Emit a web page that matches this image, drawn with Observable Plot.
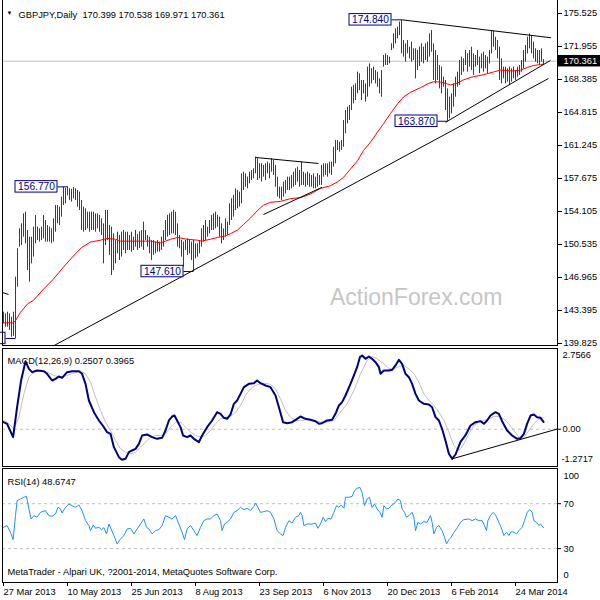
<!DOCTYPE html>
<html><head><meta charset="utf-8">
<script src="https://cdn.jsdelivr.net/npm/d3@7"></script>
<script src="https://cdn.jsdelivr.net/npm/@observablehq/plot@0.6"></script>
<style>
body{margin:0;background:#fff}
#chart{position:relative;width:600px;height:600px;overflow:hidden;background:#fff}
#chart svg{position:absolute;left:0;overflow:visible}
</style></head><body><div id="chart"></div>
<script>
// ---------- header ----------
const symbol = "GBPJPY,Daily";
const ohlc = [170.399, 170.538, 169.971, 170.361];
const macdTitle = "MACD(12,26,9) 0.2507 0.3965";
const rsiTitle = "RSI(14) 48.6747";
const copyright = "MetaTrader - Alpari UK, ?2001-2014, MetaQuotes Software Corp.";
const watermark = "ActionForex.com";

// ---------- axes ----------
const priceTicks = [175.525, 171.955, 168.385, 164.815, 161.245, 157.675, 154.105, 150.535, 146.965, 143.395, 139.825];
const macdRange = [-1.2717, 2.7566];
const rsiLevels = [70, 30];
const dateTickBars = [0, 32, 64, 96, 128, 160, 192, 224, 256];
const dateTickLabels = ["27 Mar 2013","10 May 2013","25 Jun 2013","8 Aug 2013","23 Sep 2013","6 Nov 2013","20 Dec 2013","6 Feb 2014","24 Mar 2014"];

// ---------- daily bars (high / low), bar index 0..270 ----------
const highs = [
143.21,143.03,143.21,143.03,142.67,143.21,147.00,150.07,152.23,152.77,
153.85,154.03,152.05,151.33,151.33,152.41,153.67,152.41,152.23,152.41,
153.67,153.13,152.59,152.41,152.23,153.31,154.75,154.75,154.57,155.66,
156.74,156.60,156.77,156.56,156.50,156.70,156.56,156.38,156.20,155.30,
154.57,154.39,154.03,154.03,154.03,154.03,153.85,153.85,153.67,153.31,
152.77,154.21,154.21,152.59,152.41,151.69,150.97,151.87,151.51,151.87,
152.05,151.87,151.87,151.51,151.87,151.33,152.05,151.60,151.90,152.05,
152.95,152.05,151.51,151.33,150.97,150.97,150.79,150.97,150.79,151.33,
152.05,153.13,153.68,153.85,154.03,154.22,154.03,152.77,151.51,150.97,
150.79,150.97,151.15,150.97,150.79,150.97,150.61,150.61,150.97,152.23,
152.59,153.13,152.41,153.13,153.68,153.85,154.03,153.68,153.49,152.77,
152.23,153.31,152.95,154.94,155.48,155.84,156.56,156.38,156.20,158.18,
158.36,158.18,157.82,158.36,158.54,158.72,159.99,159.81,159.27,159.27,
159.09,159.27,159.45,159.27,159.81,159.63,159.09,157.82,156.74,156.74,
157.28,157.46,157.82,157.82,158.00,158.36,158.72,158.90,158.54,159.44,
158.36,158.18,158.36,158.18,158.00,158.18,157.82,158.18,158.00,159.08,
159.26,159.26,159.26,159.44,159.44,161.06,161.78,161.78,161.60,161.78,
163.95,165.03,165.39,165.57,167.55,167.73,167.91,169.18,169.00,168.28,
168.28,167.91,169.72,170.08,169.54,169.72,169.36,169.18,168.46,169.36,
170.98,171.16,170.98,170.80,172.24,173.32,173.86,174.05,174.60,174.84,
172.60,172.24,172.60,171.88,172.42,171.70,171.70,171.52,171.90,172.24,
171.88,172.24,172.42,173.32,173.68,172.24,171.52,170.98,169.90,169.72,
168.64,168.28,167.37,166.47,166.83,167.92,168.64,169.18,170.44,170.80,
170.62,171.52,171.16,171.52,171.88,171.16,170.98,171.52,170.80,171.16,
171.34,170.98,170.80,171.52,173.68,173.61,172.96,172.60,171.88,170.62,
169.72,169.72,169.54,169.72,169.54,169.72,169.36,169.72,169.90,170.44,
171.52,172.06,172.96,173.32,173.14,172.42,171.70,171.52,171.52,171.70,
170.538];
const lows = [
141.95,141.59,141.59,141.23,140.51,140.60,140.37,145.92,150.25,150.43,
151.33,150.61,147.72,146.46,148.44,149.17,150.61,150.97,150.79,150.97,
151.15,150.79,150.79,150.79,150.61,150.79,151.87,152.77,152.59,153.49,
154.75,154.93,155.80,155.30,155.12,155.48,155.30,154.57,154.21,152.05,
151.87,152.05,152.23,151.87,152.05,152.05,151.87,152.23,151.87,151.51,
148.44,150.43,150.97,149.35,147.18,147.72,148.44,149.53,148.80,149.17,
149.89,149.53,149.89,149.89,149.71,149.89,150.25,149.90,150.10,150.25,
149.89,150.97,150.25,149.53,148.81,149.35,149.53,149.71,149.71,149.89,
150.25,150.97,151.33,151.51,151.69,151.69,151.51,150.25,150.07,149.17,
148.09,149.89,149.35,149.53,148.81,147.61,148.99,149.17,149.53,150.25,
150.79,150.97,151.33,151.69,152.05,152.05,152.23,152.41,151.33,150.61,
150.97,151.33,151.51,152.59,153.13,153.49,154.21,154.39,154.58,154.94,
156.38,156.74,156.56,157.10,157.46,157.64,158.18,157.46,157.64,157.28,
157.82,157.46,158.18,157.64,158.36,158.00,156.74,155.66,155.48,155.29,
155.65,156.01,156.38,156.38,156.56,156.74,156.92,157.28,156.74,156.92,
156.92,156.74,156.92,156.74,156.74,156.56,156.56,156.74,156.92,156.92,
157.82,158.00,157.82,158.18,158.00,158.90,159.26,160.70,160.52,160.70,
161.06,162.51,163.59,163.95,165.03,165.75,166.11,166.83,167.19,166.11,
166.83,165.93,166.47,167.55,167.91,168.28,167.91,167.55,166.83,166.47,
169.72,169.90,169.90,170.08,171.52,171.70,172.24,172.78,173.14,171.16,
170.80,170.26,171.16,170.62,170.26,170.44,168.46,169.36,169.80,170.26,
170.08,170.44,170.26,170.80,171.34,168.28,167.92,168.28,167.37,166.83,
167.55,165.03,163.87,164.13,164.67,165.39,166.47,167.55,167.73,168.82,
169.18,169.90,169.18,169.72,169.36,168.82,169.72,169.90,169.00,169.54,
169.18,169.54,169.00,170.08,171.16,171.88,171.52,170.62,168.28,167.92,
168.46,167.92,168.10,167.73,168.10,168.46,168.28,168.64,168.82,169.18,
169.54,170.26,171.16,171.70,171.16,170.62,170.26,170.08,169.90,170.26,
169.971];

// ---------- red moving average [bar, value] ----------
const ma = [[0,142.06],[5,142.06],[6,142.3],[8.5,143.2],[12,144.1],[15,144.5],[20,145.7],[25,146.8],[30,148.1],[35,149.3],[39,150.2],[43.5,150.8],[48.5,151.0],[52,151.2],[56,151.1],[58.5,150.9],[65,150.9],[68.5,150.9],[73.5,150.9],[78.5,150.7],[83.5,151.1],[87,151.3],[92,151.1],[97,151.0],[99,150.9],[103.5,151.1],[107,151.3],[110,151.4],[113.5,151.7],[117,152.1],[120,152.7],[123.5,153.4],[127,154.2],[130,154.8],[133.5,155.1],[138.5,155.2],[143.5,155.5],[148.5,155.6],[153.5,156.0],[158.5,156.6],[163.5,156.9],[167,157.3],[170,157.8],[173.5,158.7],[177,159.6],[180,160.7],[183.5,161.6],[187,162.7],[190,163.6],[193.5,164.7],[197,165.75],[200,166.5],[203.5,167.0],[208.5,167.5],[212,167.9],[215,168.15],[218.5,168.1],[222,167.9],[223.5,167.8],[227,168.0],[230,168.35],[235,168.7],[240,168.9],[245,169.2],[248.5,169.4],[252,169.35],[255,169.3],[258.5,169.4],[262,169.7],[265,169.9],[268.5,170.0],[270,170.05]];

// ---------- trendlines and labelled extremes ----------
const trendlines = [
  {x1:25, y1:139.57, x2:272.5, y2:168.49},
  {x1:199.3, y1:174.84, x2:273.8, y2:172.90},
  {x1:221, y1:163.75, x2:273.5, y2:170.45},
  {x1:126, y1:159.95, x2:157.5, y2:159.30},
  {x1:130, y1:153.78, x2:159.3, y2:156.73},
  {x1:-0.5, y1:145.34, x2:2.5, y2:145.13}
];
const extremes = [{i:6, p:140.37}, {i:32, p:156.77}, {i:95, p:147.61}, {i:199, p:174.84}, {i:222, p:163.87}];

// ---------- MACD [bar, value] ----------
const macdMain = [[0,0.242],[1.8,0.185],[4.8,-0.270],[6.8,0.754],[8.8,1.664],[11,2.324],[12.7,2.063],[14.3,1.949],[16.8,2.006],[20.2,1.983],[21.8,1.892],[24.3,1.664],[26,1.721],[27.7,1.801],[29.3,1.755],[31.8,1.949],[34.3,1.983],[37.7,1.983],[39.3,1.892],[41,1.551],[42.7,0.982],[45.2,0.583],[47.7,0.299],[50.2,0.071],[51.8,-0.100],[53.5,-0.156],[55.2,-0.612],[57.7,-0.953],[59.3,-1.044],[61,-1.010],[62.7,-0.782],[64.3,-0.725],[66,-0.669],[67.7,-0.498],[69.3,-0.213],[71.8,-0.179],[74.3,-0.270],[76.8,-0.327],[79.3,-0.293],[81,-0.043],[82.7,0.299],[84.3,0.435],[85.5,0.470],[86.8,0.299],[88.5,0.071],[89.8,-0.213],[91.8,-0.270],[93.5,-0.213],[95.2,-0.327],[97.7,-0.441],[99.3,-0.213],[101.8,0.071],[104.3,0.299],[106.8,0.583],[108.5,0.526],[110.2,0.390],[111.8,0.356],[113.5,0.504],[115.2,0.868],[116.8,0.982],[118.5,1.209],[120.2,1.437],[122.7,1.551],[125.2,1.573],[126.8,1.664],[128.5,1.573],[131,1.494],[133.5,1.437],[136,1.152],[137.7,0.754],[139.8,0.242],[141.8,0.208],[144.3,0.242],[146.8,0.356],[148.5,0.435],[151,0.356],[153.5,0.322],[156,0.276],[157.7,0.185],[159.3,0.208],[161.8,0.299],[164.3,0.322],[166,0.526],[167.7,0.811],[169.3,0.925],[171,1.152],[173.5,1.551],[175.2,1.835],[176.8,2.120],[178.2,2.461],[179.3,2.518],[181,2.404],[182.7,2.484],[184.3,2.404],[186,2.290],[187.7,2.120],[188.5,1.892],[190.2,2.006],[192.7,2.006],[194.3,2.029],[196,2.177],[197.7,2.370],[199.3,2.233],[201,1.892],[202.7,1.778],[204.3,1.551],[206,1.209],[207.7,0.982],[210.2,0.868],[212.7,0.845],[214.3,0.754],[216,0.413],[217.7,0.299],[219.3,0.014],[221,-0.391],[222.7,-0.834],[224.3,-1.010],[226,-0.862],[228.5,-0.432],[231,-0.203],[233.5,0.128],[236,0.242],[238.5,0.277],[240.2,0.185],[241.8,0.299],[243.5,0.469],[246,0.584],[247.7,0.527],[249.3,0.275],[251.8,-0.043],[254.3,-0.213],[256.8,-0.327],[258.5,-0.304],[260.2,-0.157],[261.8,0.185],[263.5,0.469],[265.2,0.504],[266.8,0.413],[268.5,0.390],[270,0.2507]];
const macdSignal = [[0,0.299],[1.8,0.242],[5.2,0.014],[7.7,0.413],[10.2,1.209],[12.7,1.778],[15.2,1.949],[18.5,2.029],[21.8,1.949],[25.2,1.835],[28.5,1.778],[31.8,1.835],[35.2,1.915],[38.5,1.983],[41,1.892],[43.5,1.608],[46,1.095],[48.5,0.640],[51,0.242],[53.5,-0.043],[56,-0.384],[58.5,-0.669],[61,-0.782],[63.5,-0.839],[66,-0.782],[68.5,-0.612],[71,-0.441],[73.5,-0.270],[76,-0.213],[78.5,-0.213],[81,-0.156],[83.5,0.071],[86,0.242],[88.5,0.242],[91,0.071],[93.5,-0.100],[96,-0.213],[98.5,-0.270],[101,-0.213],[103.5,-0.043],[106,0.185],[108.5,0.356],[111,0.413],[113.5,0.435],[116,0.583],[118.5,0.811],[121,1.152],[123.5,1.380],[126,1.494],[128.5,1.551],[131,1.573],[133.5,1.528],[136,1.380],[138.5,1.039],[141,0.640],[143.5,0.413],[146,0.299],[148.5,0.299],[151.8,0.322],[155.2,0.299],[158.5,0.242],[161.8,0.242],[165.2,0.299],[168.5,0.583],[171.8,0.868],[175.2,1.323],[178.5,1.892],[181.8,2.347],[184.3,2.484],[186.8,2.404],[190.2,2.233],[192.7,2.063],[195.2,2.063],[197.7,2.142],[200.2,2.177],[202.7,2.063],[205.2,1.892],[207.7,1.608],[210.2,1.209],[212.7,0.982],[215.2,0.811],[217.7,0.583],[220.2,0.299],[222.7,-0.100],[225.2,-0.555],[227.7,-0.725],[230.2,-0.498],[232.7,-0.156],[235.2,0.128],[237.7,0.242],[240.2,0.299],[242.7,0.356],[245.2,0.435],[247.7,0.435],[250.2,0.356],[252.7,0.185],[255.2,-0.043],[257.7,-0.270],[260.2,-0.270],[262.7,-0.043],[265.2,0.185],[267.7,0.356],[270,0.3965]];
const macdSupport = [{x1:224.3, y1:-1.01, x2:277, y2:0.01}];

// ---------- RSI(14) [bar, value] ----------
const rsi = [[0,49.0],[1.8,50.5],[3.5,44.5],[4.8,38.0],[6,59.4],[6.8,72.7],[8.5,74.2],[10.2,75.7],[11.5,76.5],[12.7,65.3],[13.8,56.4],[15.2,59.4],[16.8,57.9],[18.5,62.3],[21,63.8],[22.7,59.4],[24.3,58.8],[26,60.8],[27.2,66.8],[28.5,65.3],[29.3,61.7],[31,66.8],[32.7,69.7],[34.3,68.2],[36,66.8],[37.7,68.8],[39.3,63.8],[41,54.9],[42.7,50.5],[43.5,46.0],[44.8,51.1],[46,48.1],[47.7,49.0],[49,46.9],[50.2,48.7],[51.5,43.1],[52.7,51.9],[53.8,47.5],[55.2,41.6],[56.8,34.2],[58.5,38.6],[60.2,41.6],[61.8,47.5],[63.5,48.1],[65.2,43.1],[66.8,47.5],[68.5,51.9],[70.2,56.4],[71.5,49.0],[72.7,47.5],[74.3,43.1],[76,46.0],[77.7,46.9],[79.3,50.5],[81,59.4],[82.7,57.9],[84.3,56.4],[86,59.4],[87.7,51.9],[89.3,44.5],[90.5,38.0],[91.8,47.5],[93.5,50.5],[95.2,46.0],[96.8,41.6],[98.5,49.0],[100.2,54.9],[101.8,56.4],[103.5,56.4],[105.2,59.4],[106.8,60.8],[108.5,54.9],[109.3,46.0],[110.5,51.9],[111.8,53.4],[113.5,56.4],[115.2,62.3],[116.8,63.8],[118.5,66.8],[120.2,64.7],[121.8,65.9],[123.5,63.8],[125.2,67.7],[126,70.6],[127.2,66.8],[128.5,62.3],[130.2,62.9],[131.8,63.8],[133.5,62.3],[135.2,56.4],[136.8,46.0],[138.5,43.1],[139.8,41.6],[141,49.0],[142.7,54.9],[144.3,52.8],[146,57.9],[147.7,59.4],[148.5,62.3],[149.3,59.4],[150.2,50.5],[151.8,51.9],[154.3,51.9],[156,52.8],[157.2,48.1],[158.5,51.9],[159.8,57.9],[161,54.0],[162.2,57.0],[163.8,56.4],[165.2,62.3],[166.5,68.2],[167.7,66.8],[168.8,68.8],[170.2,65.9],[171,75.7],[172.7,75.7],[174.3,76.5],[175.5,81.6],[176.8,83.7],[178.2,84.5],[179.3,80.1],[180.5,68.2],[181.8,74.2],[183,75.7],[184.3,66.8],[185.5,69.7],[186.8,65.3],[188.2,62.3],[189.3,57.9],[190.2,68.2],[191.5,65.3],[192.7,65.9],[194.3,68.8],[196,71.2],[197.2,74.2],[198.5,72.7],[199.3,65.3],[200.5,62.3],[201.5,57.9],[202.7,59.4],[204.3,62.3],[205.2,57.9],[206,46.0],[207.2,53.4],[208.5,51.9],[210.2,54.0],[211.8,53.4],[213.5,59.4],[214.3,53.4],[215.2,43.1],[216.5,49.0],[217.7,50.5],[219.3,46.0],[220.5,40.1],[221.5,34.2],[222.7,38.0],[223.8,40.1],[225.2,44.5],[226.5,47.5],[228.5,53.4],[230.2,55.8],[232.7,56.4],[234.3,54.9],[236,56.4],[237.7,54.9],[239.3,54.9],[240.5,50.5],[241.5,46.0],[242.2,54.9],[243.5,59.4],[244.8,62.3],[246,60.0],[247.7,53.4],[248.8,49.0],[250.2,41.6],[251.5,44.5],[252.7,41.6],[253.8,45.1],[255.2,44.5],[256.5,43.1],[257.7,46.0],[259.3,49.0],[260.5,54.9],[261.8,62.3],[263.2,64.7],[264.3,62.3],[265.2,54.9],[266.5,53.4],[267.7,50.5],[268.5,51.9],[270,48.67]];

// ---------- drawing ----------
const FONT = "Tahoma, 'Liberation Sans', Arial, sans-serif";
const BAR = "#1b4763";
const NAVY = "#000080";
const GRID = "#c0c0c0";
const xDomain = [-0.5, 277];
const xEnd = xDomain[1];
const bars = highs.map((h, i) => ({i, high: h, low: lows[i]}));
const lastClose = ohlc[3];
// label boxes that lie fully inside the chart show their text; the one cut by the left edge shows only its frame
const boxLeft = d => d.i - 26;
const visibleExtremes = extremes.filter(d => boxLeft(d) >= xDomain[0]);
const common = {
  width: 600, marginLeft: 2, marginRight: 43,
  style: {fontFamily: FONT, fontSize: "9.3px", background: "transparent", overflow: "visible", color: "black"}
};

const mainPlot = Plot.plot({
  ...common, height: 347, marginTop: 0, marginBottom: 1,
  x: {domain: xDomain, axis: null},
  y: {domain: [priceTicks[priceTicks.length - 1], priceTicks[0]], range: [344, 14], label: null},
  marks: [
    Plot.ruleY([lastClose], {stroke: GRID}),
    Plot.text([watermark], {text: d => d, frameAnchor: "bottom-right", textAnchor: "end", lineAnchor: "bottom", dx: -55, dy: -41, fontSize: 23, fill: "#c6c6c6", fontFamily: "'Liberation Sans', Arial, sans-serif"}),
    Plot.ruleX(bars, {x: "i", y1: "low", y2: "high", stroke: BAR}),
    Plot.line(ma, {x: d => d[0], y: d => d[1], stroke: "#ff0000", strokeWidth: 1}),
    Plot.link(trendlines, {x1: "x1", y1: "y1", x2: "x2", y2: "y2", stroke: "black"}),
    Plot.link(extremes, {x1: d => d.i - 5, x2: d => d.i, y1: "p", y2: "p", stroke: NAVY}),
    Plot.rect(extremes, {x1: boxLeft, x2: d => d.i - 5, y1: d => d.p - 0.62, y2: d => d.p + 0.62, fill: "white", stroke: NAVY}),
    Plot.text(visibleExtremes, {x: d => d.i - 15.5, y: "p", text: d => d.p.toFixed(3), fill: NAVY, fontSize: 10.2}),
    Plot.frame({stroke: "black"}),
    Plot.axisY({anchor: "right", ticks: priceTicks, tickFormat: d => d.toFixed(3), tickSize: 4, tickPadding: 2, label: null}),
    Plot.rect([lastClose], {x1: () => xEnd, x2: () => xEnd + 21.5, y1: d => d - 0.62, y2: d => d + 0.62, fill: "black"}),
    Plot.text([lastClose], {x: () => xEnd, y: d => d, text: d => d.toFixed(3), textAnchor: "start", dx: 6, fill: "white"}),
    Plot.text(["\u25BC"], {text: d => d, frameAnchor: "top-left", dx: 4, dy: 11, fontSize: 6}),
    Plot.text([symbol + "  " + ohlc.map(v => v.toFixed(3)).join(" ")], {text: d => d, frameAnchor: "top-left", textAnchor: "start", dx: 16, dy: 12})
  ]
});

const macdPlot = Plot.plot({
  ...common, height: 120, marginTop: 1, marginBottom: 1,
  x: {domain: xDomain, axis: null},
  y: {domain: macdRange, range: [119, 1], label: null},
  marks: [
    Plot.ruleY([0], {stroke: GRID, strokeDasharray: "3,3"}),
    Plot.line(macdSignal, {x: d => d[0], y: d => d[1], stroke: GRID, strokeWidth: 1}),
    Plot.line(macdMain, {x: d => d[0], y: d => d[1], stroke: NAVY, strokeWidth: 2}),
    Plot.link(macdSupport, {x1: "x1", y1: "y1", x2: "x2", y2: "y2", stroke: "black"}),
    Plot.frame({stroke: "black"}),
    Plot.axisY({anchor: "right", ticks: [0], tickFormat: d => d.toFixed(2), tickSize: 3, tickPadding: 2, label: null}),
    Plot.text([macdRange[1]], {x: () => xEnd, y: d => d, text: d => String(d), textAnchor: "start", dx: 5, dy: 7}),
    Plot.text([macdRange[0]], {x: () => xEnd, y: d => d, text: d => String(d), textAnchor: "start", dx: 4, dy: -7}),
    Plot.text([macdTitle], {text: d => d, frameAnchor: "top-left", textAnchor: "start", dx: 5, dy: 9})
  ]
});

const rsiPlot = Plot.plot({
  ...common, height: 133, marginTop: 1, marginBottom: 18,
  x: {domain: xDomain, label: null},
  y: {domain: [0, 100], range: [114.8, 2.5], label: null},
  marks: [
    Plot.ruleY(rsiLevels, {stroke: GRID, strokeDasharray: "3,3"}),
    Plot.line(rsi, {x: d => d[0], y: d => d[1], stroke: "#1e90ff", strokeWidth: 1}),
    Plot.frame({stroke: "black"}),
    Plot.axisY({anchor: "right", ticks: rsiLevels, tickSize: 3, tickPadding: 3, label: null}),
    Plot.text([100], {x: () => xEnd, y: d => d, text: d => String(d), textAnchor: "start", dx: 6, dy: 6}),
    Plot.text([0], {x: () => xEnd, y: d => d, text: d => String(d), textAnchor: "start", dx: 6, dy: -7}),
    Plot.axisX({ticks: dateTickBars, tickFormat: d => dateTickLabels[dateTickBars.indexOf(d)], tickSize: 4, tickPadding: 2, textAnchor: "start", label: null}),
    Plot.text([rsiTitle], {text: d => d, frameAnchor: "top-left", textAnchor: "start", dx: 5, dy: 10}),
    Plot.text([copyright], {text: d => d, frameAnchor: "bottom-left", textAnchor: "start", dx: 5, dy: -8})
  ]
});

const root = document.getElementById("chart");
mainPlot.style.top = "-1px";
macdPlot.style.top = "347px";
rsiPlot.style.top = "467px";
root.append(mainPlot, macdPlot, rsiPlot);
</script></body></html>
